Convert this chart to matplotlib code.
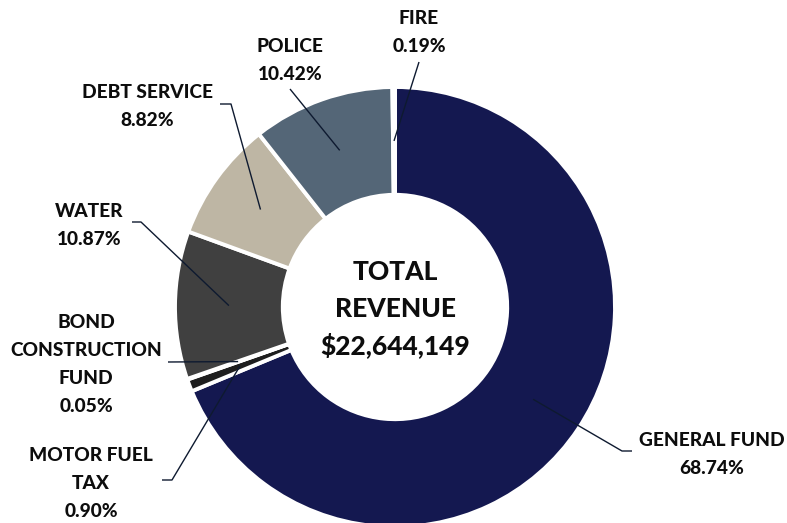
"""Donut chart of total revenue split by fund."""

import matplotlib

matplotlib.use("Agg")
import matplotlib.pyplot as plt
import numpy as np

funds = [
    "GENERAL FUND",
    "MOTOR FUEL\nTAX",
    "BOND\nCONSTRUCTION\nFUND",
    "WATER",
    "DEBT SERVICE",
    "POLICE",
    "FIRE",
]
shares = [68.74, 0.90, 0.05, 10.87, 8.82, 10.42, 0.19]
total_revenue = 22644149

fund_colours = ["#141850", "#1E1E1E", "#7F7F7F", "#404040", "#BEB6A4", "#546677", "#A5A5A5"]

# layout is worked out in pixels of the saved image, then mapped to data units
SCALE = 220.0
CENTRE_PX = (395.0, 307.0)
LINE_GAP = 28.0


def px(x, y):
    return (x - CENTRE_PX[0]) / SCALE, (CENTRE_PX[1] - y) / SCALE


# label block centre and the leader path drawn from the label towards the ring
label_layout = {
    "GENERAL FUND": ((712, 453), [(632, 451), (622, 451)]),
    "MOTOR FUEL\nTAX": ((91, 482), [(162, 480), (172, 480)]),
    "BOND\nCONSTRUCTION\nFUND": ((86, 363), [(168, 362)]),
    "WATER": ((89, 224), [(132, 222), (141, 222)]),
    "DEBT SERVICE": ((147, 105.5), [(220, 104), (231, 104)]),
    "POLICE": ((290, 59), [(290, 89)]),
    "FIRE": ((419, 31), [(419, 62)]),
}

plt.rcParams["font.family"] = ["Lato", "DejaVu Sans"]

figure = plt.figure(figsize=(7.87, 5.23), dpi=100)
axis = figure.add_axes([0, 0, 1, 1])

ring_width = 0.49
wedges, _ = axis.pie(
    shares,
    colors=fund_colours,
    startangle=90,
    counterclock=False,
    radius=1.0,
    wedgeprops=dict(width=ring_width, edgecolor="white", linewidth=2.8),
)

mid_radius = 1.0 - ring_width / 2
for wedge, fund, share in zip(wedges, funds, shares):
    (cx, cy), path = label_layout[fund]
    mid_angle = np.deg2rad((wedge.theta1 + wedge.theta2) / 2)
    points = [px(x, y) for x, y in path]
    points.append((mid_radius * np.cos(mid_angle), mid_radius * np.sin(mid_angle)))
    xs, ys = zip(*points)
    axis.plot(xs, ys, color="#0E1A30", linewidth=1.0, solid_capstyle="butt")

    lines = fund.split("\n") + [f"{share:.2f}%"]
    for index, line in enumerate(lines):
        y = cy + (index - (len(lines) - 1) / 2) * LINE_GAP
        axis.text(
            *px(cx, y),
            line,
            ha="center",
            va="center_baseline",
            fontsize=13.8,
            fontweight=900,
            color="#0D0D0D",
        )

centre_lines = ["TOTAL", "REVENUE", f"${total_revenue:,}"]
for line, y in zip(centre_lines, [270, 307, 343]):
    axis.text(
        *px(395, y),
        line,
        ha="center",
        va="center_baseline",
        fontsize=19,
        fontweight=900,
        color="#0D0D0D",
    )

axis.set_xlim(-CENTRE_PX[0] / SCALE, (787 - CENTRE_PX[0]) / SCALE)
axis.set_ylim((CENTRE_PX[1] - 523) / SCALE, CENTRE_PX[1] / SCALE)
axis.set_aspect("equal")
axis.axis("off")

figure.savefig("out.png", dpi=100, facecolor="white")
